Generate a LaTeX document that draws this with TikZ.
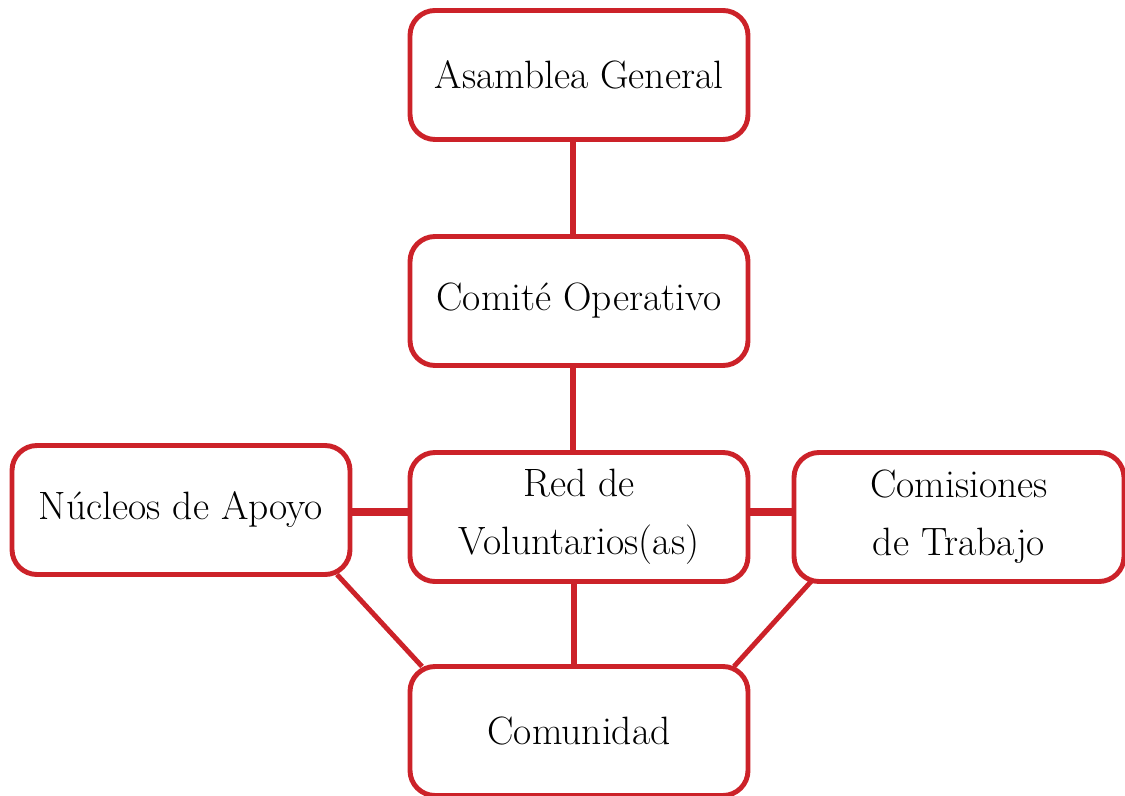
\documentclass[tikz,border=0pt]{standalone}
\usepackage{tikz}
\usetikzlibrary{positioning,calc}
\usepackage{xcolor}
\definecolor{boxred}{RGB}{204,34,41}

\begin{document}
\begin{tikzpicture}[
    node distance=1.8cm,
    box/.style={rectangle,rounded corners=0.5cm,draw=boxred,line width=2.8pt,fill=white,
      minimum width=6.76cm,minimum height=2.58cm,outer sep=0pt,align=center,
      font=\fontsize{22.5}{33}\selectfont}]
    \useasboundingbox (0,0) rectangle (22.5,15.9);
    \node[box] (AG) at (11.58,14.4) {Asamblea General};
    \node[box] (CO) [below=1.94cm of AG] {Comité Operativo};
    \node[box] (RV) [below=1.74cm of CO] {Red de\\Voluntarios(as)};
    \node[box] (NA) [left=1.2cm of RV,yshift=0.14cm] {Núcleos de Apoyo};
    \node[box,minimum width=6.6cm] (CT) [right=0.92cm of RV] {Comisiones\\de Trabajo};
    \node[box] (CM) [below=1.7cm of RV] {Comunidad};

    \draw[boxred,line width=3.8pt] ([xshift=-0.12cm]AG.south) -- ([xshift=-0.12cm]CO.north);
    \draw[boxred,line width=3.8pt] ([xshift=-0.12cm]CO.south) -- ([xshift=-0.12cm]RV.north);
    \draw[boxred,line width=3.8pt] ([xshift=-0.1cm]RV.south) -- ([xshift=-0.1cm]CM.north);
    \draw[boxred,line width=5pt] (NA.east |- 0,5.66) -- (RV.west |- 0,5.66);
    \draw[boxred,line width=5pt] (RV.east |- 0,5.66) -- (CT.west |- 0,5.66);
    \draw[boxred,line width=2.8pt] ([xshift=-0.26cm]NA.south east) -- ([xshift=0.24cm]CM.north west);
    \draw[boxred,line width=2.8pt] ([xshift=0.34cm]CT.south west) -- ([xshift=-0.28cm]CM.north east);
\end{tikzpicture}
\end{document}
